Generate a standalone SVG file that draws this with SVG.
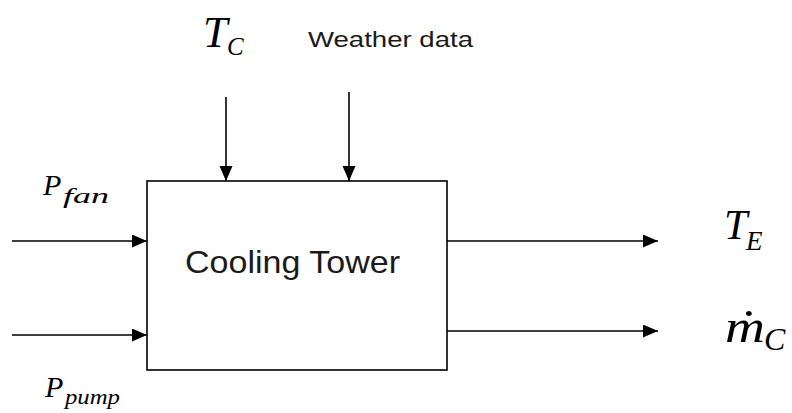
<svg xmlns="http://www.w3.org/2000/svg" width="792" height="413" viewBox="0 0 792 413">
<style>
.ln{stroke:#000;stroke-width:1.6;fill:none}
.m{font-family:"Liberation Serif",serif;font-style:italic;fill:#000}
.s{font-family:"Liberation Sans",Arial,sans-serif;fill:#1a1a1a}
</style>
<defs>
<marker id="ah" markerUnits="userSpaceOnUse" markerWidth="16" markerHeight="14" refX="15" refY="6.5" orient="auto">
<path d="M0,0 L15,6.5 L0,13 z" fill="#000"/>
</marker>
</defs>
<rect width="792" height="413" fill="#fff"/>
<g id="connectors">
<line class="ln" x1="12" y1="241" x2="147" y2="241" marker-end="url(#ah)"/>
<line class="ln" x1="12" y1="335" x2="147" y2="335" marker-end="url(#ah)"/>
<line class="ln" x1="226" y1="97" x2="226" y2="181" marker-end="url(#ah)"/>
<line class="ln" x1="349" y1="92" x2="349" y2="181" marker-end="url(#ah)"/>
<line class="ln" x1="447" y1="241" x2="658" y2="241" marker-end="url(#ah)"/>
<line class="ln" x1="447" y1="331" x2="658" y2="331" marker-end="url(#ah)"/>
</g>
<g id="cooling-tower">
<rect class="ln" x="147" y="181" width="300" height="189"/>
<text class="s" x="185" y="273" font-size="32" textLength="215" lengthAdjust="spacingAndGlyphs">Cooling Tower</text>
</g>
<g id="label-tc">
<text class="m" x="203" y="47" font-size="44">T</text>
<text class="m" x="227" y="55" font-size="25">C</text>
</g>
<g id="label-weather">
<text class="s" x="308" y="47" font-size="22" textLength="165" lengthAdjust="spacingAndGlyphs">Weather data</text>
</g>
<g id="label-pfan">
<text class="m" x="43" y="195" font-size="30">P</text>
<text class="m" x="63" y="203" font-size="21" textLength="46" lengthAdjust="spacingAndGlyphs">fan</text>
</g>
<g id="label-ppump">
<text class="m" x="45" y="397" font-size="30">P</text>
<text class="m" x="65" y="404" font-size="20" textLength="55" lengthAdjust="spacingAndGlyphs">pump</text>
</g>
<g id="label-te">
<text class="m" x="724" y="239" font-size="42">T</text>
<text class="m" x="746" y="250" font-size="27">E</text>
</g>
<g id="label-mc">
<text class="m" x="725" y="342" font-size="46" textLength="40" lengthAdjust="spacingAndGlyphs">ṁ</text>
<text class="m" x="764" y="350" font-size="32">C</text>
</g>
</svg>
